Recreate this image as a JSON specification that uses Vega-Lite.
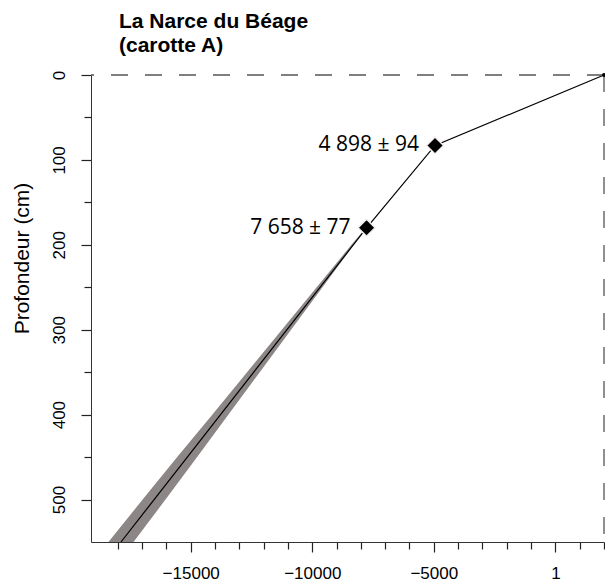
{
  "$schema": "https://vega.github.io/schema/vega-lite/v6.json",
  "width": 513,
  "height": 467,
  "autosize": {"type": "none"},
  "padding": {"left": 91, "top": 75, "right": 1, "bottom": 42},
  "background": "white",
  "config": {"view": {"stroke": null}, "font": "Liberation Sans"},
  "title": {
    "text": ["La Narce du Béage", "(carotte A)"],
    "anchor": "start",
    "frame": "group",
    "dx": 28,
    "dy": 27,
    "font": "Liberation Sans",
    "fontSize": 21,
    "fontWeight": "bold",
    "lineHeight": 24,
    "offset": 20,
    "baseline": "bottom",
    "color": "black"
  },
  "datasets": {
    "band": [
      {"depth": 179, "lo": -7765, "hi": -7765},
      {"depth": 200, "lo": -8387, "hi": -8287},
      {"depth": 250, "lo": -9818, "hi": -9578},
      {"depth": 300, "lo": -11250, "hi": -10870},
      {"depth": 350, "lo": -12681, "hi": -12161},
      {"depth": 400, "lo": -14113, "hi": -13453},
      {"depth": 450, "lo": -15554, "hi": -14734},
      {"depth": 500, "lo": -16976, "hi": -16036},
      {"depth": 550, "lo": -18382, "hi": -17352}
    ],
    "line": [
      {"age": 2000, "depth": 0},
      {"age": -4950, "depth": 83},
      {"age": -7765, "depth": 180},
      {"age": -17867, "depth": 550}
    ],
    "dates": [
      {"age": -4950, "depth": 83, "label": "4 898 ± 94"},
      {"age": -7765, "depth": 180, "label": "7 658 ± 77"}
    ],
    "refs": [{"age": 2000, "depth": 0}]
  },
  "layer": [
    {
      "data": {"name": "band"},
      "mark": {"type": "area", "orient": "horizontal", "color": "#8c8686"},
      "encoding": {
        "y": {
          "field": "depth", "type": "quantitative",
          "scale": {"domain": [0, 550], "reverse": true, "nice": false, "zero": false},
          "axis": {
            "values": [0, 100, 200, 300, 400, 500], "format": "d", "orient": "left",
            "grid": false, "domainColor": "#333333", "tickColor": "#222222", "tickSize": 10, "tickWidth": 1.2,
            "labelAngle": -90, "labelAlign": "center", "labelBaseline": "alphabetic",
            "labelPadding": 17, "labelFontSize": 17, "labelFont": "Liberation Sans", "labelColor": "black",
            "labelFlush": false, "labelOverlap": false,
            "title": "Profondeur (cm)", "titleFont": "Liberation Sans", "titleFontSize": 21,
            "titleFontWeight": "normal", "titleColor": "black", "titleAngle": -90,
            "titleAlign": "center", "titleBaseline": "alphabetic", "titleX": -63, "titleY": 183
          }
        },
        "x": {
          "field": "lo", "type": "quantitative",
          "scale": {"domain": [-19100, 2000], "nice": false, "zero": false},
          "axis": {
            "values": [-18000, -17000, -16000, -15000, -14000, -13000, -12000, -11000, -10000, -9000, -8000, -7000, -6000, -5000, -4000, -3000, -2000, -1000, 1, 1000, 2000],
            "format": "d", "orient": "bottom",
            "labelExpr": "indexof([-15000, -10000, -5000, 1], datum.value) >= 0 ? datum.label : ''",
            "grid": false, "domainColor": "#333333", "tickColor": "#222222", "tickWidth": 1.2,
            "tickSize": {"condition": {"test": "indexof([-15000, -10000, -5000, 1], datum.value) >= 0", "value": 10}, "value": 7},
            "labelPadding": 13, "labelFontSize": 17, "labelFont": "Liberation Sans", "labelColor": "black",
            "labelFlush": false, "labelOverlap": false, "title": null
          }
        },
        "x2": {"field": "hi"}
      }
    },
    {
      "data": {"name": "line"},
      "mark": {"type": "line", "color": "black", "strokeWidth": 1.2},
      "encoding": {
        "x": {"field": "age", "type": "quantitative", "axis": null},
        "y": {
          "field": "depth", "type": "quantitative",
          "axis": {
            "values": [50, 150, 250, 350, 450],
            "orient": "left", "labels": false, "domain": false, "grid": false,
            "tickSize": 7, "tickColor": "#222222", "tickWidth": 1.2, "title": null
          }
        },
        "order": {"field": "depth", "type": "quantitative"}
      }
    },
    {
      "data": {"name": "refs"},
      "mark": {"type": "rule", "color": "#555555", "strokeWidth": 1.3, "strokeDash": [17, 17]},
      "encoding": {"y": {"field": "depth", "type": "quantitative", "axis": null}}
    },
    {
      "data": {"name": "refs"},
      "mark": {"type": "rule", "color": "#555555", "strokeWidth": 1.3, "strokeDash": [17, 17]},
      "encoding": {"x": {"field": "age", "type": "quantitative", "axis": null}}
    },
    {
      "data": {"name": "refs"},
      "mark": {"type": "point", "shape": "circle", "filled": true, "color": "black", "size": 16, "opacity": 1},
      "encoding": {
        "x": {"field": "age", "type": "quantitative", "axis": null},
        "y": {"field": "depth", "type": "quantitative", "axis": null}
      }
    },
    {
      "data": {"name": "dates"},
      "mark": {"type": "point", "shape": "diamond", "filled": true, "fill": "black", "stroke": "#f4eeee", "strokeWidth": 1.5, "size": 290, "opacity": 1},
      "encoding": {
        "x": {"field": "age", "type": "quantitative", "axis": null},
        "y": {"field": "depth", "type": "quantitative", "axis": null}
      }
    },
    {
      "data": {"name": "dates"},
      "mark": {"type": "text", "align": "right", "baseline": "middle", "dx": -16, "font": "Open Sans", "fontSize": 21, "color": "black"},
      "encoding": {
        "x": {"field": "age", "type": "quantitative", "axis": null},
        "y": {"field": "depth", "type": "quantitative", "axis": null},
        "text": {"field": "label"}
      }
    }
  ],
  "resolve": {"axis": {"x": "independent", "y": "independent"}}
}
